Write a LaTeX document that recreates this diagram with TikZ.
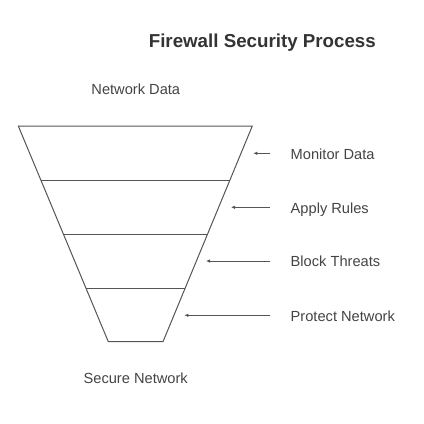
\documentclass[tikz,border=0pt]{standalone}
\usepackage{fontspec}
\setmainfont{Liberation Sans}
\usetikzlibrary{arrows.meta}
\definecolor{txt}{HTML}{444444}
\definecolor{ttl}{HTML}{333333}
\definecolor{ln}{HTML}{555555}
\begin{document}
\begin{tikzpicture}[x=1bp,y=1bp,
  lbl/.style={inner sep=0pt,text=txt,font=\fontsize{14.7}{17}\selectfont},
  funnel/.style={draw=ln,line width=1bp,line join=miter},
  band/.style={draw=ln,line width=1bp},
  arr/.style={draw=ln,line width=0.9bp,-{Latex[length=4bp,width=3.5bp]}}]
\useasboundingbox (0,0) rectangle (424,-424);
% funnel corners
\coordinate (tl) at (18.3,-126);
\coordinate (tr) at (252.3,-126);
\coordinate (bl) at (108.3,-341.7);
\coordinate (br) at (163,-341.7);
\draw[funnel] (tl) -- (tr) -- (br) -- (bl) -- cycle;
% band dividers
\coordinate (l1) at (41,-180); \coordinate (r1) at (230,-180);
\coordinate (l2) at (63.6,-234.3); \coordinate (r2) at (207.4,-234.3);
\coordinate (l3) at (86,-288.3); \coordinate (r3) at (185,-288.3);
\draw[band] (l1) -- (r1);
\draw[band] (l2) -- (r2);
\draw[band] (l3) -- (r3);
% title and labels
\node[lbl,anchor=base,text=ttl,font=\fontsize{18.8}{22}\selectfont\bfseries] (title) at (262.3,-47.7) {Firewall Security Process};
\node[lbl,anchor=base] (input) at (135.8,-94) {Network Data};
\node[lbl,anchor=base] (output) at (135.7,-383.7) {Secure Network};
\node[lbl,anchor=base west] (m) at (290.5,-159) {Monitor Data};
\node[lbl,anchor=base west] (a) at (290.5,-213) {Apply Rules};
\node[lbl,anchor=base west] (b) at (290.5,-266.7) {Block Threats};
\node[lbl,anchor=base west] (p) at (290.5,-321) {Protect Network};
% arrows
\coordinate (s1) at (270,-153.3); \coordinate (t1) at (253.3,-153.3);
\coordinate (s2) at (270,-207.3); \coordinate (t2) at (231,-207.3);
\coordinate (s3) at (270,-261);   \coordinate (t3) at (206,-261);
\coordinate (s4) at (270,-315.3); \coordinate (t4) at (184.3,-315.3);
\draw[arr] (s1) -- (t1);
\draw[arr] (s2) -- (t2);
\draw[arr] (s3) -- (t3);
\draw[arr] (s4) -- (t4);
\end{tikzpicture}
\end{document}
